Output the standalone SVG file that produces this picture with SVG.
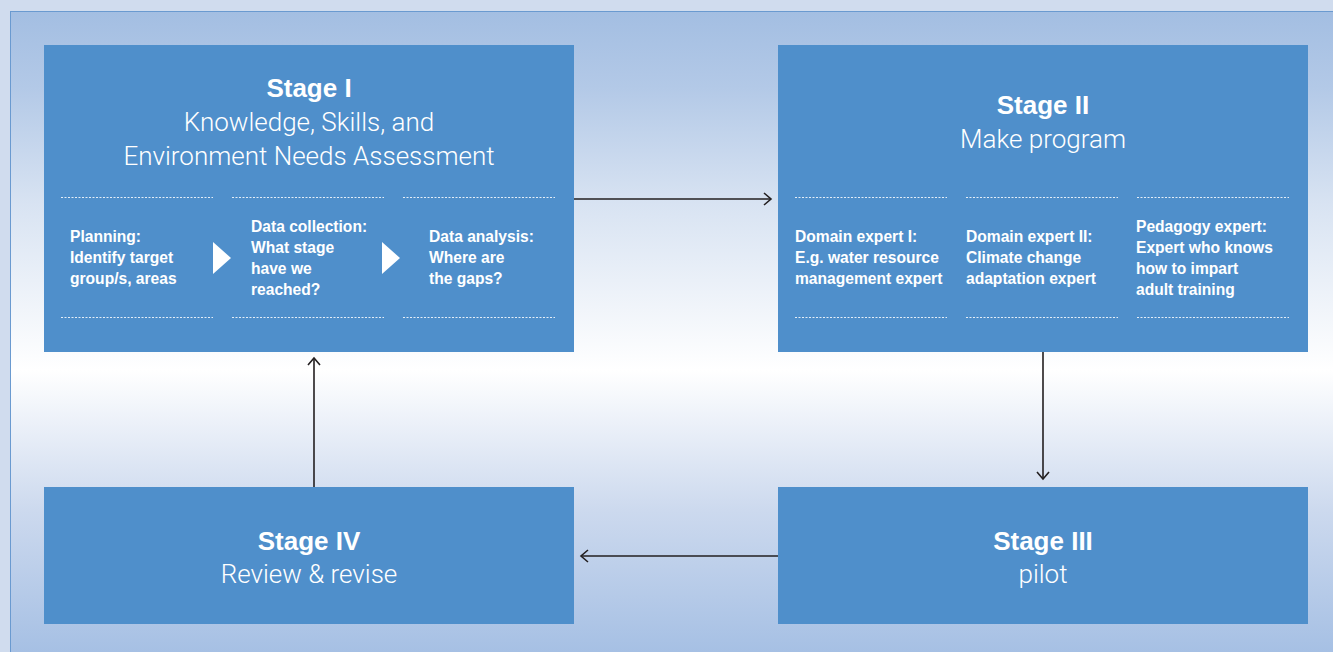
<svg xmlns="http://www.w3.org/2000/svg" width="1333" height="652" viewBox="0 0 1333 652">
<defs>
<linearGradient id="bg" x1="0" y1="11" x2="0" y2="652" gradientUnits="userSpaceOnUse">
<stop offset="0" stop-color="#a3bee2"/>
<stop offset="0.12" stop-color="#b3c9e7"/>
<stop offset="0.3" stop-color="#d8e3f2"/>
<stop offset="0.56" stop-color="#ffffff"/>
<stop offset="0.78" stop-color="#ccd9ee"/>
<stop offset="1" stop-color="#a6c0e4"/>
</linearGradient>
<marker id="ah" markerWidth="14" markerHeight="14" refX="11" refY="7" orient="auto" markerUnits="userSpaceOnUse">
<path d="M4,1 L11,7 L4,13" fill="none" stroke="#231f20" stroke-width="1.6"/>
</marker>
<style>
.box{fill:#4f8fcb}
.t{font-family:"Liberation Sans",Arial,sans-serif;font-weight:bold;font-size:26px;fill:#fff;text-anchor:middle}
.s{font-family:Roboto,"Liberation Sans",sans-serif;font-weight:300;font-size:26px;fill:#fff;text-anchor:middle}
.b{font-family:"Liberation Sans",Arial,sans-serif;font-weight:bold;font-size:15.6px;fill:#fff}
.d{stroke:#fff;stroke-width:1;stroke-dasharray:2 1.5;fill:none;opacity:0.85}
.c{stroke:#231f20;stroke-width:1.6;fill:none}
</style>
</defs>
<rect x="0" y="0" width="1333" height="652" fill="#d0dcee"/>
<rect x="10.5" y="11.5" width="1330" height="650" fill="url(#bg)" stroke="#6a9ad0" stroke-width="1"/>

<g id="stage1">
<rect class="box" x="44" y="45" width="530" height="307"/>
<text class="t" x="309" y="97">Stage I</text>
<text class="s" x="309" y="131">Knowledge, Skills, and</text>
<text class="s" x="309" y="165">Environment Needs Assessment</text>
<path class="d" d="M61,197.5H213M232,197.5H384M403,197.5H555M61,317.5H213M232,317.5H384M403,317.5H555"/>
<polygon points="213,242 231,258 213,274" fill="#fff"/>
<polygon points="382,242 400,258 382,274" fill="#fff"/>
<text class="b" x="70" y="242">Planning:<tspan x="70" dy="21">Identify target</tspan><tspan x="70" dy="21">group/s, areas</tspan></text>
<text class="b" x="251" y="232">Data collection:<tspan x="251" dy="21">What stage</tspan><tspan x="251" dy="21">have we</tspan><tspan x="251" dy="21">reached?</tspan></text>
<text class="b" x="429" y="242">Data analysis:<tspan x="429" dy="21">Where are</tspan><tspan x="429" dy="21">the gaps?</tspan></text>
</g>

<g id="stage2">
<rect class="box" x="778" y="45" width="530" height="307"/>
<text class="t" x="1043" y="114">Stage II</text>
<text class="s" x="1043" y="148">Make program</text>
<path class="d" d="M795,197.5H947M966,197.5H1118M1137,197.5H1289M795,317.5H947M966,317.5H1118M1137,317.5H1289"/>
<text class="b" x="795" y="242">Domain expert I:<tspan x="795" dy="21">E.g. water resource</tspan><tspan x="795" dy="21">management expert</tspan></text>
<text class="b" x="966" y="242">Domain expert II:<tspan x="966" dy="21">Climate change</tspan><tspan x="966" dy="21">adaptation expert</tspan></text>
<text class="b" x="1136" y="232">Pedagogy expert:<tspan x="1136" dy="21">Expert who knows</tspan><tspan x="1136" dy="21">how to impart</tspan><tspan x="1136" dy="21">adult training</tspan></text>
</g>

<g id="stage3">
<rect class="box" x="778" y="487" width="530" height="137"/>
<text class="t" x="1043" y="550">Stage III</text>
<text class="s" x="1043" y="583">pilot</text>
</g>

<g id="stage4">
<rect class="box" x="44" y="487" width="530" height="137"/>
<text class="t" x="309" y="550">Stage IV</text>
<text class="s" x="309" y="583">Review &amp; revise</text>
</g>

<g id="connectors">
<path class="c" d="M574,199H771" marker-end="url(#ah)"/>
<path class="c" d="M1043,352V479" marker-end="url(#ah)"/>
<path class="c" d="M778,556H581" marker-end="url(#ah)"/>
<path class="c" d="M314,487V358" marker-end="url(#ah)"/>
</g>
</svg>
